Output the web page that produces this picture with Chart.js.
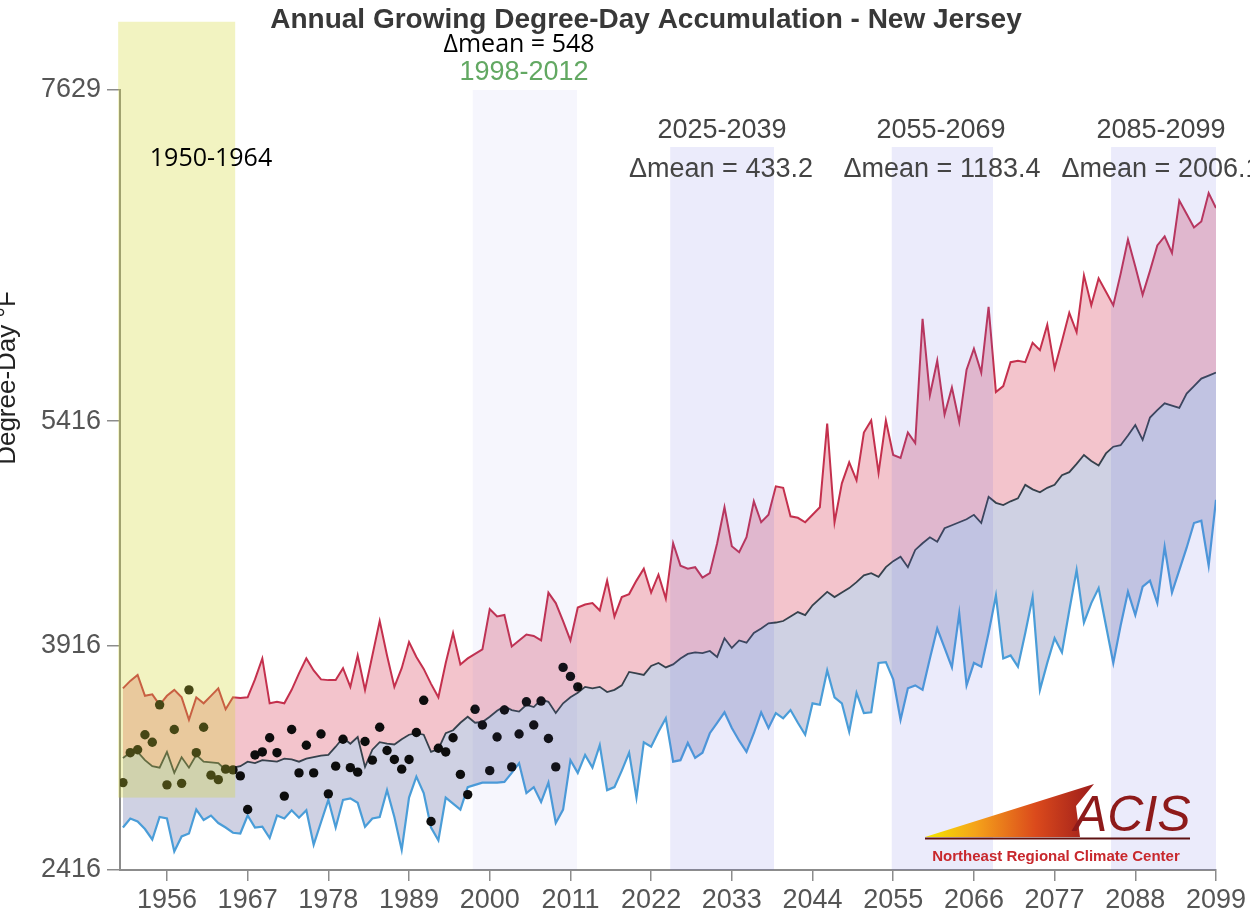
<!DOCTYPE html>
<html>
<head>
<meta charset="utf-8">
<script src="https://cdn.jsdelivr.net/npm/chart.js@4.4.1/dist/chart.umd.min.js"></script>
<style>
html,body{margin:0;padding:0;background:#fff;}
#wrap{width:1250px;height:916px;position:relative;}
canvas{display:block;}
</style>
</head>
<body>
<div id="wrap"><canvas id="c" width="1250" height="916"></canvas></div>
<script>
// ---------- DATA ----------
const startYear = 1950;
const years = Array.from({length: 150}, (_, i) => startYear + i);

const upperValues = [
  3630, 3680, 3720, 3580, 3590, 3520, 3580, 3620, 3570, 3420,
  3570, 3530, 3580, 3630, 3490, 3570, 3565, 3570, 3690, 3830,
  3530, 3540, 3530, 3620, 3730, 3830, 3750, 3690, 3685, 3685,
  3765, 3640, 3850, 3620, 3850, 4080, 3850, 3640, 3765, 3940,
  3840, 3760, 3660, 3570, 3800, 4000, 3790, 3830, 3860, 3890,
  4160, 4110, 4120, 3910, 3950, 3990, 3980, 3950, 4270, 4200,
  4080, 3950, 4170, 4190, 4200, 4150, 4350, 4110, 4240, 4260,
  4350, 4430, 4270, 4390, 4230, 4600, 4450, 4430, 4440, 4370,
  4400, 4600, 4840, 4580, 4540, 4640, 4880, 4740, 4790, 4980,
  4970, 4780, 4770, 4740, 4790, 4840, 5400, 4740, 5000, 5140,
  5020, 5340, 5420, 5070, 5420, 5190, 5170, 5340, 5270, 6100,
  5590, 5820, 5460, 5640, 5410, 5760, 5900, 5740, 6180, 5610,
  5650, 5810, 5820, 5810, 5940, 5890, 6060, 5770, 5950, 6140,
  6010, 6390, 6190, 6370, 6280, 6190, 6400, 6630, 6450, 6260,
  6420, 6590, 6650, 6540, 6890, 6800, 6710, 6750, 6940, 6840
];

const middleValues = [
  3165, 3200, 3205, 3150, 3110, 3100, 3205, 3065, 3170, 3100,
  3185, 3140, 3135, 3130, 3085, 3100, 3110, 3140, 3130, 3150,
  3145, 3140, 3160, 3155, 3140, 3160, 3170, 3180, 3185, 3240,
  3300, 3260, 3305, 3105, 3220, 3270, 3260, 3255, 3290, 3320,
  3330, 3320, 3205, 3225, 3330, 3350, 3400, 3440, 3400, 3405,
  3440, 3480, 3510, 3485, 3475, 3520, 3505, 3555, 3540, 3465,
  3530, 3570, 3600, 3640, 3630, 3640, 3605, 3620, 3650, 3740,
  3730, 3720, 3780, 3800, 3770, 3790, 3830, 3860, 3870, 3865,
  3880, 3840, 3965, 3900, 3950, 3935, 4000, 4030, 4065, 4070,
  4080, 4110, 4140, 4120, 4185, 4230, 4275, 4240, 4270, 4300,
  4340, 4385, 4400, 4375, 4440, 4480, 4510, 4440, 4555, 4600,
  4640, 4610, 4700, 4720, 4740, 4760, 4790, 4735, 4910, 4870,
  4855, 4880, 4900, 4990, 4960, 4940, 4970, 4990, 5055, 5075,
  5130, 5190, 5150, 5120, 5200, 5245, 5255, 5320, 5390, 5290,
  5440, 5490, 5535, 5520, 5505, 5600, 5650, 5700, 5720, 5740
];

const lowerValues = [
  2700, 2760, 2740, 2690, 2620, 2770, 2760, 2540, 2640, 2660,
  2820, 2750, 2780, 2730, 2700, 2665, 2660, 2780, 2700, 2705,
  2630, 2780, 2760, 2815, 2765, 2815, 2585, 2735, 2885, 2700,
  2885, 2895, 2865, 2705, 2760, 2770, 2950, 2770, 2550, 2900,
  3040, 2930, 2700, 2615, 2900, 2860, 2820, 2970, 2985, 3000,
  3000, 3000, 3005, 3065, 3130, 2930, 2970, 2870, 3000, 2730,
  2820, 3150, 3065, 3185, 3100, 3250, 2950, 2970, 3080, 3200,
  2900, 3270, 3240, 3340, 3430, 3140, 3150, 3265, 3165, 3200,
  3330, 3400, 3470, 3365, 3280, 3205, 3330, 3470, 3365, 3465,
  3430, 3485, 3400, 3320, 3530, 3520, 3750, 3570, 3530, 3340,
  3600, 3465, 3470, 3800, 3805, 3690, 3420, 3630, 3650, 3620,
  3830, 4030, 3900, 3770, 4130, 3650, 3800, 3775, 4000, 4250,
  3830, 3850, 3775, 4000, 4240, 3620, 3800, 3965, 3870, 4150,
  4420, 4070, 4200, 4300, 4050, 3800, 4050, 4275, 4120, 4310,
  4350, 4200, 4575, 4270, 4420, 4570, 4735, 4750, 4450, 4890
];

const observedYears = years.slice(0, 63);
const observedValues = [
  3000, 3200, 3220, 3320, 3270, 3520, 2985, 3355, 2995, 3620,
  3200, 3370, 3050, 3020, 3090, 3085, 3045, 2820, 3185, 3205,
  3300, 3200, 2910, 3355, 3065, 3250, 3065, 3325, 2925, 3110,
  3290, 3100, 3070, 3275, 3150, 3370, 3215, 3155, 3090, 3155,
  3335, 3550, 2740, 3230, 3205, 3300, 3055, 2920, 3490, 3385,
  3080, 3305, 3485, 3105, 3325, 3540, 3385, 3545, 3295, 3105,
  3770, 3710, 3640
];

const xTickLabels = [1956, 1967, 1978, 1989, 2000, 2011, 2022, 2033, 2044, 2055, 2066, 2077, 2088, 2099];
const yTickValues = [2416, 3916, 5416, 7629];

// highlighted periods
const periodStarts = [1949.35, 1997.7, 2024.6, 2054.8, 2084.7];
const periodEnds   = [1965.3, 2011.9, 2038.75, 2068.6, 2099];

// ---------- CHART ----------
const toXY = (xs, ys) => xs.map((x, i) => ({x: x, y: ys[i]}));

const bandStyles = [
  {yTop: 8085, yBottom: 2900, color: 'rgba(210,215,40,0.29)'},
  {yTop: 7629, yBottom: 2416, color: 'rgba(100,100,225,0.06)'},
  {yTop: 7248, yBottom: 2416, color: 'rgba(100,100,225,0.13)'},
  {yTop: 7248, yBottom: 2416, color: 'rgba(100,100,225,0.13)'},
  {yTop: 7248, yBottom: 2416, color: 'rgba(100,100,225,0.13)'}
];

const bandsPlugin = {
  id: 'bands',
  afterDatasetsDraw(chart) {
    const {ctx, scales: {x, y}} = chart;
    ctx.save();
    periodStarts.forEach((s, i) => {
      const st = bandStyles[i];
      const x0 = x.getPixelForValue(s), x1 = x.getPixelForValue(periodEnds[i]);
      const y0 = y.getPixelForValue(st.yTop), y1 = y.getPixelForValue(st.yBottom);
      ctx.fillStyle = st.color;
      ctx.fillRect(x0, y0, x1 - x0, y1 - y0);
    });
    ctx.restore();
  }
};

const HELV = '"Liberation Sans", Arial, Helvetica, sans-serif';
const CALI = '"Open Sans", "Noto Sans", sans-serif';

const textItems = [
  {t: 'Annual Growing Degree-Day Accumulation - New Jersey', x: 646, y: 28, f: 'bold 28px ' + HELV, c: '#383838'},
  {t: '\u0394mean = 548', x: 519, y: 52, f: '25px ' + CALI, c: '#000000'},
  {t: '1998-2012', x: 524, y: 80, f: '27px ' + HELV, c: '#62a862'},
  {t: '1950-1964', x: 211, y: 166, f: '25px ' + CALI, c: '#000000'},
  {t: '2025-2039', x: 722, y: 138, f: '27px ' + HELV, c: '#444444'},
  {t: '\u0394mean = 433.2', x: 721, y: 177, f: '27px ' + HELV, c: '#444444'},
  {t: '2055-2069', x: 941, y: 138, f: '27px ' + HELV, c: '#444444'},
  {t: '\u0394mean = 1183.4', x: 942, y: 177, f: '27px ' + HELV, c: '#444444'},
  {t: '2085-2099', x: 1161, y: 138, f: '27px ' + HELV, c: '#444444'},
  {t: '\u0394mean = 2006.1', x: 1161, y: 177, f: '27px ' + HELV, c: '#444444'}
];

const textPlugin = {
  id: 'texts',
  afterDraw(chart) {
    const ctx = chart.ctx;
    ctx.save();
    ctx.textAlign = 'center';
    ctx.textBaseline = 'alphabetic';
    textItems.forEach(it => {
      ctx.font = it.f;
      ctx.fillStyle = it.c;
      ctx.fillText(it.t, it.x, it.y);
    });
    // y-axis title
    ctx.save();
    ctx.translate(15, 378);
    ctx.rotate(-Math.PI / 2);
    ctx.font = '26px ' + HELV;
    ctx.fillStyle = '#222';
    ctx.fillText('Degree-Day \u00B0F', 0, 0);
    ctx.restore();

    // ACIS logo
    const g = ctx.createLinearGradient(925, 0, 1095, 0);
    g.addColorStop(0, '#f4e800');
    g.addColorStop(0.3, '#f5a21a');
    g.addColorStop(0.65, '#db4a1c');
    g.addColorStop(1, '#9b1b1b');
    ctx.fillStyle = g;
    ctx.beginPath();
    ctx.moveTo(925, 837);
    ctx.lineTo(1094, 784);
    ctx.lineTo(1076, 806);
    ctx.lineTo(1080, 837);
    ctx.closePath();
    ctx.fill();
    ctx.strokeStyle = '#5e1212';
    ctx.lineWidth = 2;
    ctx.beginPath();
    ctx.moveTo(925, 838.5);
    ctx.lineTo(1190, 838.5);
    ctx.stroke();
    ctx.font = 'italic 50px ' + HELV;
    ctx.textAlign = 'left';
    ctx.fillStyle = '#8e1a1a';
    ctx.fillText('ACIS', 1074, 831);
    ctx.font = 'bold 15px ' + HELV;
    ctx.textAlign = 'center';
    ctx.fillStyle = '#c8282d';
    ctx.fillText('Northeast Regional Climate Center', 1056, 861);
    ctx.restore();
  }
};

const axisColor = '#8c8c8c';

new Chart(document.getElementById('c'), {
  type: 'line',
  data: {
    datasets: [
      {
        label: 'Observed',
        data: toXY(observedYears, observedValues),
        showLine: false,
        pointRadius: 4.7,
        pointBackgroundColor: '#0d0d0d',
        pointBorderWidth: 0,
        fill: false
      },
      {
        label: 'Upper',
        data: toXY(years, upperValues),
        borderColor: '#c4304d',
        borderWidth: 2,
        pointRadius: 0,
        tension: 0,
        fill: {target: '+1', above: '#f3c4cc', below: '#f3c4cc'}
      },
      {
        label: 'Mean',
        data: toXY(years, middleValues),
        borderColor: '#36414c',
        borderWidth: 1.8,
        pointRadius: 0,
        tension: 0,
        fill: {target: '+1', above: '#cfd1e3', below: '#cfd1e3'}
      },
      {
        label: 'Lower',
        data: toXY(years, lowerValues),
        borderColor: '#4a9dd8',
        borderWidth: 2.2,
        pointRadius: 0,
        tension: 0,
        fill: false
      }
    ]
  },
  options: {
    responsive: false,
    animation: false,
    devicePixelRatio: 1,
    layout: {padding: {left: 0, right: 34, top: 90, bottom: 0}},
    plugins: {
      legend: {display: false},
      tooltip: {enabled: false},
      filler: {drawTime: 'beforeDatasetsDraw'}
    },
    scales: {
      x: {
        type: 'linear',
        min: 1949.6,
        max: 2099,
        afterBuildTicks: (scale) => { scale.ticks = xTickLabels.map(v => ({value: v})); },
        afterFit: (scale) => { scale.height = 46; },
        ticks: {
          autoSkip: false,
          maxRotation: 0,
          padding: 3,
          color: '#555',
          font: {family: HELV, size: 27},
          callback: (v) => String(v)
        },
        grid: {drawOnChartArea: false, drawTicks: true, tickLength: 11, color: axisColor, lineWidth: 1.5},
        border: {display: true, color: axisColor, width: 2}
      },
      y: {
        type: 'linear',
        min: 2416,
        max: 7629,
        afterBuildTicks: (scale) => { scale.ticks = yTickValues.map(v => ({value: v})); },
        afterFit: (scale) => { scale.width = 120; },
        ticks: {
          autoSkip: false,
          padding: 6,
          color: '#555',
          font: {family: HELV, size: 27},
          callback: (v) => String(v)
        },
        grid: {drawOnChartArea: false, drawTicks: true, tickLength: 13, color: axisColor, lineWidth: 1.5},
        border: {display: true, color: axisColor, width: 2}
      }
    }
  },
  plugins: [bandsPlugin, textPlugin]
});
</script>
</body>
</html>
